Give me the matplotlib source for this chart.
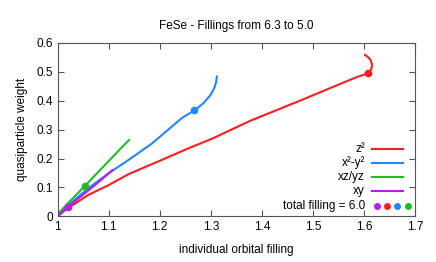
import matplotlib
matplotlib.use('Agg')
import matplotlib.pyplot as plt

plt.rcParams['font.family'] = ['Liberation Sans', 'DejaVu Sans']

# curves: (orbital filling, quasiparticle weight)
z2_fill = [1.0, 1.015, 1.06, 1.10, 1.139, 1.20, 1.256, 1.302, 1.377, 1.475, 1.554, 1.587, 1.608, 1.614, 1.616, 1.613, 1.608, 1.602]
z2_z = [0.0, 0.022, 0.074, 0.108, 0.146, 0.192, 0.235, 0.268, 0.330, 0.400, 0.458, 0.482, 0.494, 0.508, 0.523, 0.540, 0.550, 0.558]
x2y2_fill = [1.0, 1.021, 1.06, 1.10, 1.139, 1.185, 1.2435, 1.268, 1.285, 1.299, 1.306, 1.310, 1.312]
x2y2_z = [0.0, 0.039, 0.097, 0.149, 0.195, 0.252, 0.340, 0.366, 0.390, 0.418, 0.440, 0.460, 0.483]
xzyz_fill = [1.0, 1.02, 1.054, 1.093, 1.12, 1.140]
xzyz_z = [0.007, 0.045, 0.106, 0.178, 0.228, 0.264]
xy_fill = [1.0, 1.02, 1.05, 1.08, 1.1075]
xy_z = [0.0, 0.031, 0.075, 0.118, 0.160]

# points at total filling = 6.0
dot_fill = {'z2': 1.608, 'x2y2': 1.268, 'xzyz': 1.054, 'xy': 1.02}
dot_z = {'z2': 0.494, 'x2y2': 0.366, 'xzyz': 0.106, 'xy': 0.031}

colors = {'z2': '#ff1c1c', 'x2y2': '#1e88ff', 'xzyz': '#1fbd1f', 'xy': '#b81cf0'}
labels = {'z2': 'z²', 'x2y2': 'x²-y²', 'xzyz': 'xz/yz', 'xy': 'xy'}

x_ticks = [1, 1.1, 1.2, 1.3, 1.4, 1.5, 1.6, 1.7]
x_ticklabels = ['1', '1.1', '1.2', '1.3', '1.4', '1.5', '1.6', '1.7']
y_ticks = [0, 0.1, 0.2, 0.3, 0.4, 0.5, 0.6]
y_ticklabels = ['0', '0.1', '0.2', '0.3', '0.4', '0.5', '0.6']

fig = plt.figure(figsize=(4.36, 2.62), dpi=100)
ax = fig.add_axes([0.132, 0.174, 0.820, 0.663])

curves = {'z2': (z2_fill, z2_z), 'x2y2': (x2y2_fill, x2y2_z),
          'xzyz': (xzyz_fill, xzyz_z), 'xy': (xy_fill, xy_z)}
for k in ['z2', 'x2y2', 'xzyz', 'xy']:
    xs, ys = curves[k]
    ax.plot(xs, ys, color=colors[k], lw=1.5, zorder=2, solid_joinstyle='round')
    ax.plot(dot_fill[k], dot_z[k], 'o', color=colors[k], ms=4.5, zorder=3)

ax.set_xlim(1, 1.7)
ax.set_ylim(0, 0.6)
ax.set_xticks(x_ticks)
ax.set_xticklabels(x_ticklabels)
ax.set_yticks(y_ticks)
ax.set_yticklabels(y_ticklabels)
ax.tick_params(direction='in', top=True, right=True, labelsize=8.5, length=4, color='#555555')
for s in ax.spines.values():
    s.set_color('#555555')
    s.set_linewidth(0.8)

ax.set_title('FeSe - Fillings from 6.3 to 5.0', fontsize=8.5, pad=10)
ax.set_xlabel('individual orbital filling', fontsize=8.5, labelpad=8)
ax.set_ylabel('quasiparticle weight', fontsize=8.5, labelpad=6)

# legend, gnuplot style: text right-aligned, sample on the right
leg_y = [0.388, 0.307, 0.225, 0.144]
for k, yy in zip(['z2', 'x2y2', 'xzyz', 'xy'], leg_y):
    ax.text(0.860, yy, labels[k], transform=ax.transAxes, ha='right', va='center', fontsize=8.5)
    ax.plot([0.879, 0.965], [yy, yy], color=colors[k], lw=1.5, transform=ax.transAxes, clip_on=False)
ax.text(0.860, 0.059, 'total filling = 6.0', transform=ax.transAxes, ha='right', va='center', fontsize=8.5)
for k, xx in zip(['xy', 'z2', 'x2y2', 'xzyz'], [0.893, 0.921, 0.950, 0.980]):
    ax.plot(xx, 0.059, 'o', color=colors[k], ms=4, transform=ax.transAxes, clip_on=False)

fig.savefig('out.png', dpi=100)
